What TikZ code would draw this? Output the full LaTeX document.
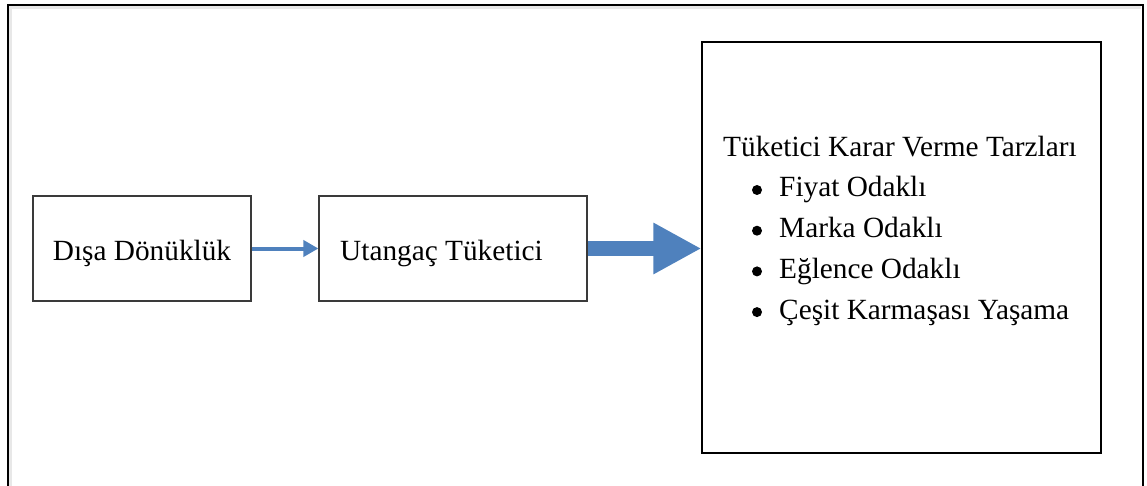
\documentclass[tikz,border=0pt]{standalone}
\usepackage{fontspec}
\setmainfont{Liberation Serif}
\usetikzlibrary{arrows.meta}
\definecolor{arrowblue}{HTML}{4F81BD}
\definecolor{boxline}{HTML}{3A3A3A}
\begin{document}
\begin{tikzpicture}[x=1pt,y=-1pt,
  box/.style={draw=boxline, line width=1.2pt, inner sep=0pt},
  txt/.style={inner sep=0pt, font=\fontsize{29.3}{35}\selectfont},
  dot/.style={circle, fill=black, inner sep=0pt, minimum size=10pt},
  thinarrow/.style={draw=arrowblue, line width=4pt, -{Triangle[length=15pt,width=16pt]}},
  thickarrow/.style={draw=arrowblue, line width=15pt, -{Triangle[length=48pt,width=48pt]}},
]
\useasboundingbox (0,0) rectangle (1147,486);

% outer frame (open at the bottom) with its soft inner shade
\draw[gray!18, line width=3pt] (10.5,486) -- (10.5,7.5) -- (1140.5,7.5);
\draw[line width=2pt] (8,486) -- (8,5) -- (1143,5) -- (1143,486);

% boxes
\node[box, minimum width=218pt, minimum height=105pt] (b1) at (142,248.5) {};
\node[box, minimum width=268pt, minimum height=105pt] (b2) at (453,248.5) {};
\node[box, draw=black, minimum width=399pt, minimum height=411pt] (big) at (901.5,247.5) {};

% box texts
\node[txt, anchor=base] (t1) at (142,260) {Dışa Dönüklük};
\node[txt, anchor=base west] (t2) at (340,260) {Utangaç Tüketici};
\node[txt, anchor=base west] (t3) at (723,156.5) {Tüketici Karar Verme Tarzları};

% bulleted list
\foreach \y/\item [count=\i] in {197/Fiyat Odaklı, 237.7/Marka Odaklı, 278.4/Eğlence Odaklı, 319.1/Çeşit Karmaşası Yaşama}{
  \node[dot] (d\i) at (757,\y-7) {};
  \node[txt, anchor=base west] (i\i) at (779,\y) {\item};
}

% connectors
\draw[thinarrow] (b1.east) -- (b2.west);
\draw[thickarrow] (b2.east) -- (b2.east -| big.west);
\end{tikzpicture}
\end{document}
